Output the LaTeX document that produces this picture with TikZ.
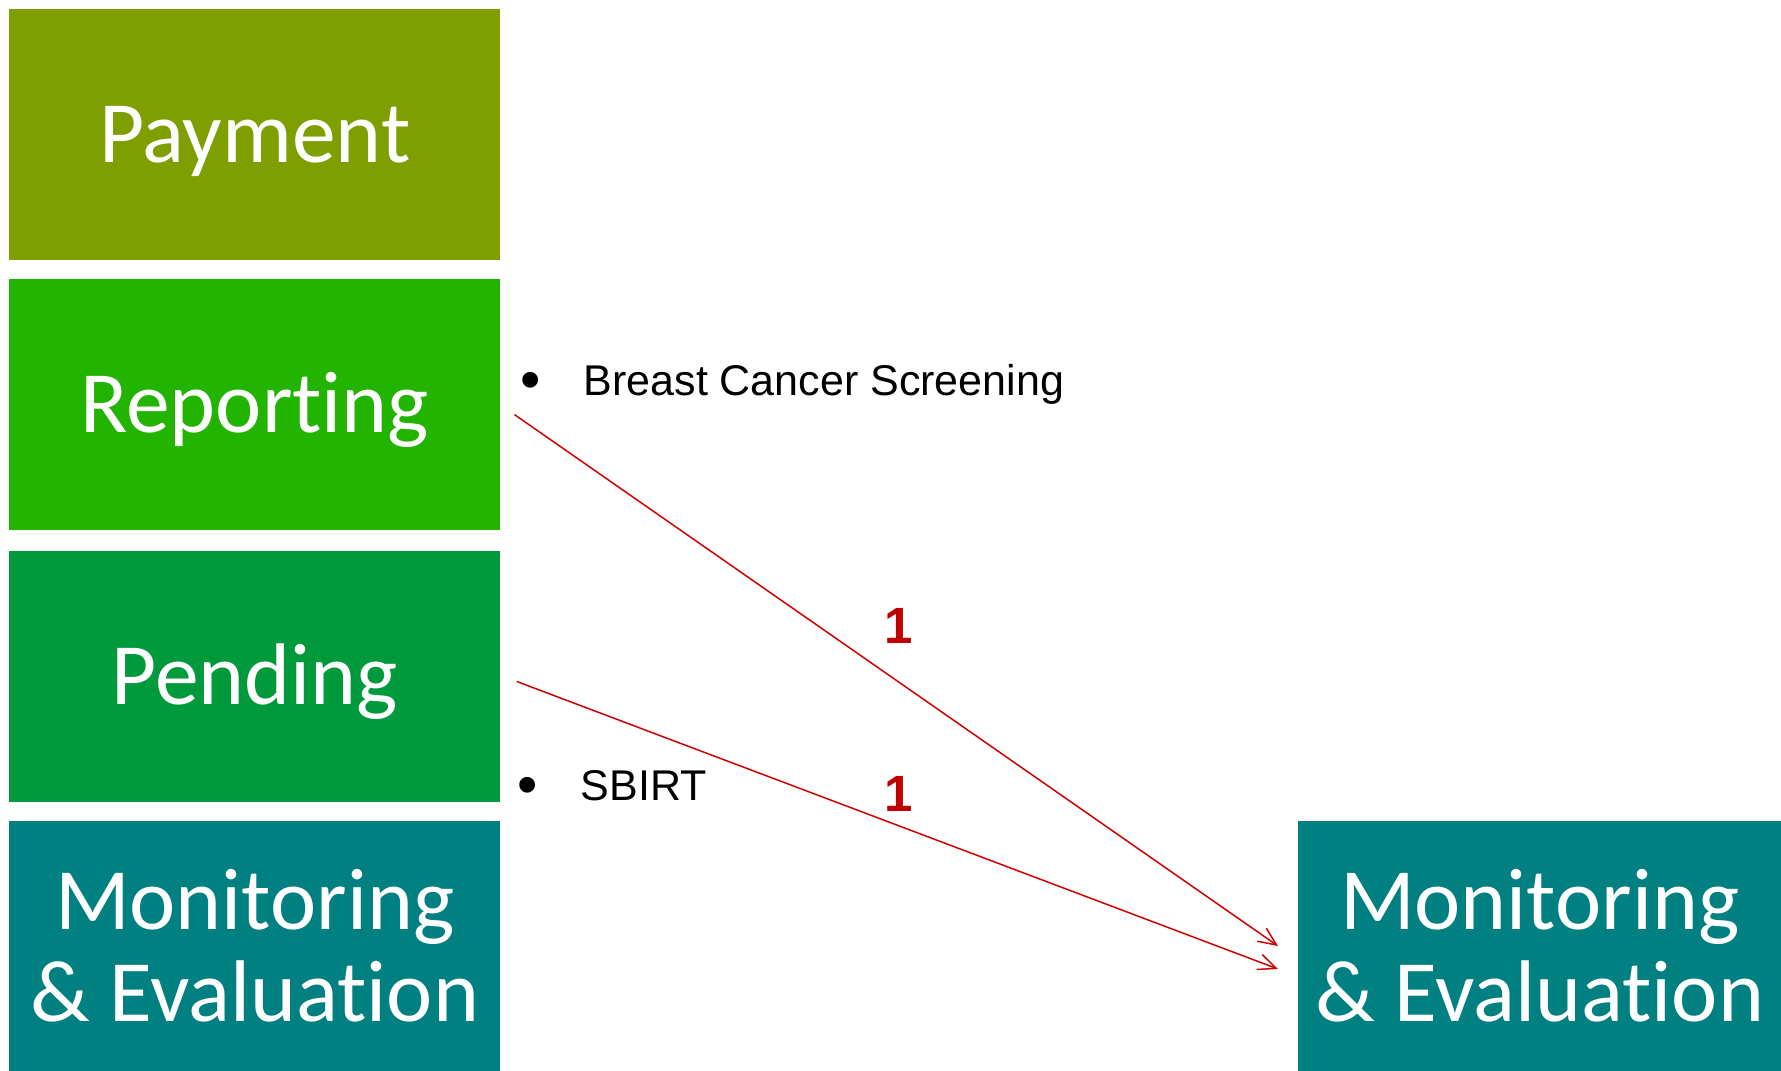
\documentclass[tikz,border=0pt]{standalone}
\usepackage{fontspec}
\setmainfont{Carlito}[Ligatures={NoCommon}]
\newfontfamily\arialfont{Liberation Sans}
\usetikzlibrary{arrows.meta}

\definecolor{payolive}{HTML}{7F9F00}
\definecolor{repgreen}{HTML}{22B400}
\definecolor{pendgreen}{HTML}{009A3D}
\definecolor{mneteal}{HTML}{008080}
\definecolor{linkred}{HTML}{D00000}
\definecolor{countred}{HTML}{C00000}

\newcommand{\bigbullet}{\makebox[63.5pt][l]{\raisebox{-4pt}{\fontsize{58}{58}\selectfont\textbullet}}}

\begin{document}
\begin{tikzpicture}[x=1pt,y=-1pt,
  block/.style={rectangle, inner sep=0pt, anchor=north west,
    minimum width=491pt, minimum height=251pt, text=white,
    font=\fontsize{87.5}{92}\selectfont, align=center},
  oneline/.style={text height=56pt, text depth=0pt},
  bullettext/.style={inner sep=0pt, anchor=base west,
    font=\arialfont\fontsize{43}{48}\selectfont},
  count/.style={inner sep=0pt, anchor=base, text=countred,
    font=\arialfont\bfseries\fontsize{51}{56}\selectfont},
  link/.style={draw=linkred, line width=1.5pt,
    -{Straight Barb[length=18pt, width=16pt, line width=1.5pt]}}
]
\useasboundingbox (0,0) rectangle (1781,1071);
\fill[white] (0,0) rectangle (1781,1071);

% left column of stages
\node[block, oneline, fill=payolive]  (pay)  at (9,9)   {Payment};
\node[block, oneline, fill=repgreen]  (rep)  at (9,279) {Reporting};
\node[block, oneline, fill=pendgreen] (pend) at (9,551) {Pending};
\node[block, fill=mneteal, minimum height=250pt] (mne) at (9,821)
  {Monitoring\\\& Evaluation};

% target stage on the right
\node[block, fill=mneteal, minimum width=483pt, minimum height=250pt]
  (mner) at (1298,821) {Monitoring\\\& Evaluation};

% measures listed beside the stages
\node[bullettext] (bcs) at (520,395) {\bigbullet Breast Cancer Screening};
\node[bullettext] (sbirt) at (517,800) {\bigbullet SBIRT};

% transitions
\coordinate (repout)  at (514.5,414.6);
\coordinate (pendout) at (516.8,681.5);
\coordinate (mnein1)  at (1278,946);
\coordinate (mnein2)  at (1278,969);
\draw[link] (repout) -- (mnein1);
\draw[link] (pendout) -- (mnein2);

\node[count] (c1) at (899,643) {1};
\node[count] (c2) at (899,811) {1};
\end{tikzpicture}
\end{document}
